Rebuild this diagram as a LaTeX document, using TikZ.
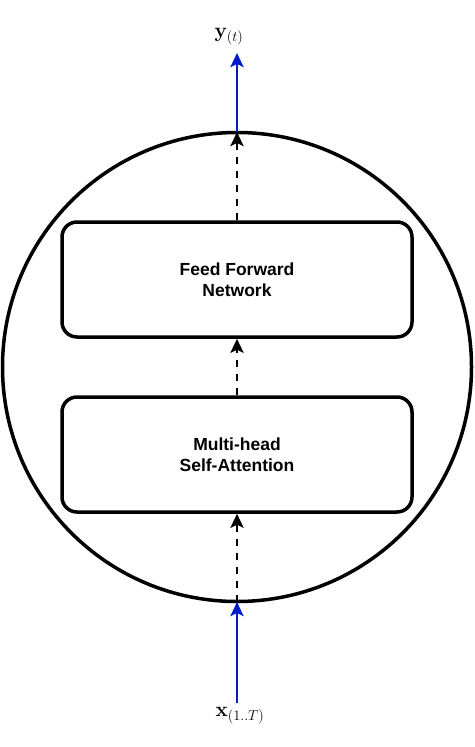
\documentclass[tikz,border=0pt]{standalone}
\usepackage{amsmath}
\usepackage[no-math]{fontspec}
\setmainfont{Liberation Sans}
\usetikzlibrary{arrows.meta}
\begin{document}
\begin{tikzpicture}[x=1pt,y=-1pt,
  blk/.style={draw=black,line width=3.5pt,rounded corners=15pt,minimum width=350pt,minimum height=115pt,align=center,font=\fontsize{17.5}{21}\selectfont\bfseries,inner sep=0pt},
  dasharrow/.style={draw=black,line width=2.8pt,dash pattern=on 7pt off 7pt,-{Stealth[length=14pt,width=13pt,inset=3pt]}},
  bluearrow/.style={draw={rgb,255:red,0;green,28;blue,204},line width=2.8pt,-{Stealth[length=14pt,width=13pt,inset=3pt]}},
  lbl/.style={inner sep=0pt,font=\fontsize{20}{22}\selectfont}]
\useasboundingbox (0,0) rectangle (474,747);
\node[draw=black,line width=3.5pt,circle,minimum size=469pt,inner sep=0pt] (circ) at (237,367) {};
\node[blk] (ffn) at (237,279.5) {Feed Forward\\Network};
\node[blk] (mha) at (237,454.5) {Multi-head\\Self-Attention};
\coordinate (ctop) at (237,132);
\coordinate (cbot) at (237,602);
\node[lbl] (y) at (229,37) {$\mathbf{y}_{(t)}$};
\node[lbl] (x) at (240,716) {$\mathbf{x}_{(1..T)}$};
\coordinate (yend) at (237,53);
\coordinate (xstart) at (237,703);
\draw[bluearrow] (xstart) -- (cbot);
\draw[bluearrow] (ctop) -- (yend);
\draw[dasharrow] (cbot) -- (mha.south);
\draw[dasharrow] (mha.north) -- (ffn.south);
\draw[dasharrow] (ffn.north) -- (ctop);
\end{tikzpicture}
\end{document}
